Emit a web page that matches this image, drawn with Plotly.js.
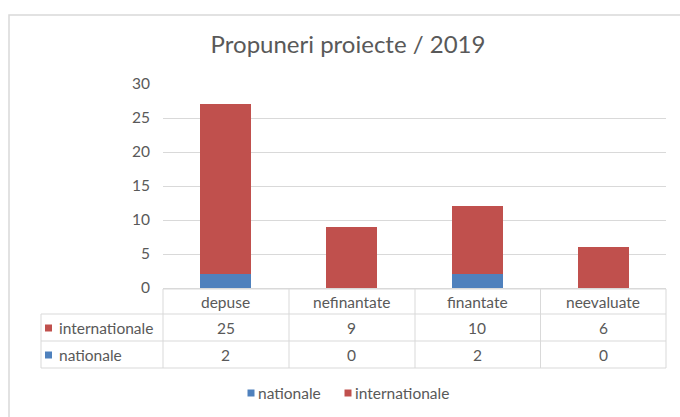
<!DOCTYPE html>
<html>
<head>
<meta charset="utf-8">
<script src="https://cdn.plot.ly/plotly-3.0.1.min.js"></script>
<style>html,body{margin:0;padding:0;background:#fff;}#chart{width:680px;height:417px;}</style>
</head>
<body>
<div id="chart"></div>
<script>
// ---- data ----
const categories = ["depuse", "nefinantate", "finantate", "neevaluate"];
const nationale = [2, 0, 2, 0];
const internationale = [25, 9, 10, 6];
const seriesNames = ["nationale", "internationale"];
const chartTitle = "Propuneri proiecte / 2019";
const yTicks = [0, 5, 10, 15, 20, 25, 30];

// ---- styles ----
const BLUE = "#4F81BD", RED = "#C0504D", TXT = "#595959", GRID = "#D9D9D9";
const FONT = "Lato, 'Open Sans', sans-serif";
const FS = 15.5;
const W = 680, H = 417, L = 163, R = 14, T = 84, B = 129;
const PW = W - L - R, PH = H - T - B;
const px = p => (p - L) / PW;           // pixel x -> paper
const py = p => (H - B - p) / PH;       // pixel y -> paper

const traces = [
  {type: "bar", name: seriesNames[0], x: categories, y: nationale, marker: {color: BLUE}, hoverinfo: "none"},
  {type: "bar", name: seriesNames[1], x: categories, y: internationale, marker: {color: RED}, hoverinfo: "none"}
];

const shapes = [];
const annotations = [];
const line = (x0, y0, x1, y1) => shapes.push({type: "line", xref: "paper", yref: "paper",
  x0: px(x0), y0: py(y0), x1: px(x1), y1: py(y1), line: {color: GRID, width: 1}});
const label = (xref, x, y, text, xanchor) => annotations.push({xref: xref, yref: "paper", x: x, y: y,
  xanchor: xanchor || "center", yanchor: "middle", text: text, showarrow: false,
  font: {family: FONT, size: FS, color: TXT}});
const square = (xc, yc, col) => shapes.push({type: "rect", xref: "paper", yref: "paper",
  x0: px(xc - 3.5), x1: px(xc + 3.5), y0: py(yc - 3.5), y1: py(yc + 3.5), fillcolor: col, line: {width: 0}});

// outer chart border
shapes.push({type: "rect", xref: "paper", yref: "paper", x0: px(9), y0: py(15), x1: px(690), y1: py(430),
  line: {color: GRID, width: 1.5}, fillcolor: "rgba(0,0,0,0)", layer: "below"});

// data table grid
const colEdges = [163, 289, 415, 540.5, 666];
const rowTop = 289, rowH = [314, 341, 368];
colEdges.forEach(c => line(c, rowTop, c, rowH[2]));
line(41, rowH[0], 41, rowH[2]);
line(163, rowTop, 666, rowTop);
rowH.forEach(r => line(41, r, 666, r));

// header row (categories)
categories.forEach(c => label("x", c, py(301.5), c));
// value rows
const rows = [[seriesNames[1], internationale, RED, 328], [seriesNames[0], nationale, BLUE, 355]];
rows.forEach(([name, vals, col, yc]) => {
  square(48.5, yc, col);
  label("paper", px(57), py(yc), name, "left");
  vals.forEach((v, i) => label("x", categories[i], py(yc), String(v)));
});

// legend (bottom)
const legendItems = [[seriesNames[0], BLUE, 251], [seriesNames[1], RED, 348]];
legendItems.forEach(([name, col, xc]) => {
  square(xc, 393, col);
  label("paper", px(xc + 5), py(393), name, "left");
});

const layout = {
  width: W, height: H,
  margin: {l: L, r: R, t: T, b: B, pad: 0},
  paper_bgcolor: "#fff", plot_bgcolor: "#fff",
  barmode: "stack", bargap: 0.595,
  title: {text: chartTitle, font: {family: FONT, size: 24, color: TXT}, x: px(348), xanchor: "center", xref: "paper",
    y: 1 - 45 / H, yanchor: "middle"},
  xaxis: {showticklabels: false, ticks: "", showgrid: false, showline: false, zeroline: false, fixedrange: true},
  yaxis: {range: [0, 30], tickvals: yTicks, showgrid: true, gridcolor: GRID, gridwidth: 1, zeroline: true, zerolinecolor: GRID,
    showline: false, ticks: "", ticklabelstandoff: 12, tickfont: {family: FONT, size: FS, color: TXT}, fixedrange: true},
  showlegend: false,
  shapes: shapes, annotations: annotations
};

Plotly.newPlot("chart", traces, layout, {displayModeBar: false, staticPlot: true});
</script>
</body>
</html>
